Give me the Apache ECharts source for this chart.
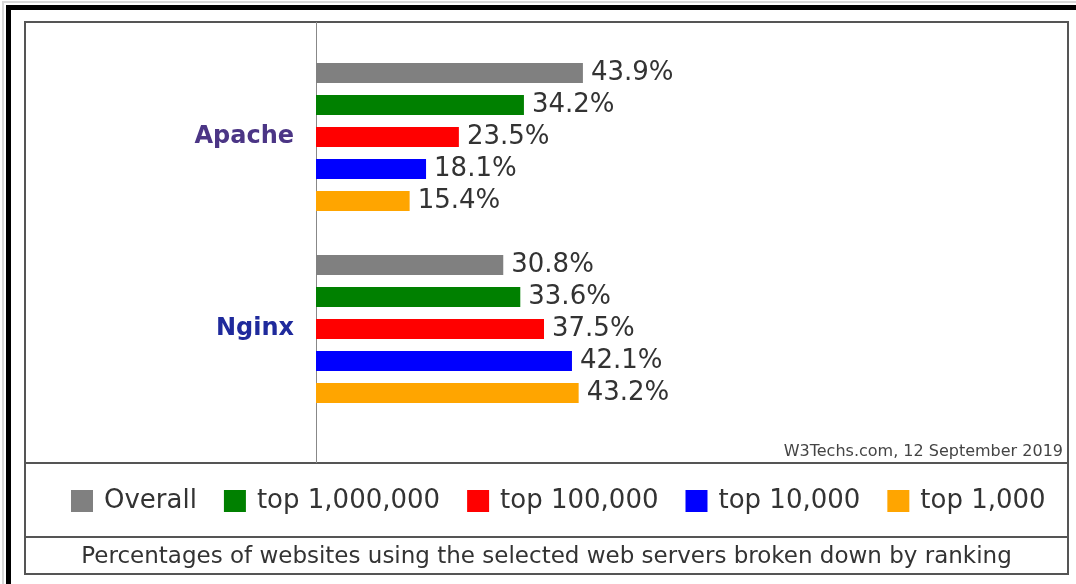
<!DOCTYPE html>
<html><head><meta charset="utf-8">
<script src="https://cdn.jsdelivr.net/npm/echarts@6/dist/echarts.min.js"></script>
<style>html,body{margin:0;padding:0;background:#fff}#c{width:1076px;height:584px}</style>
</head><body><div id="c"></div>
<script>
const categories = ['Apache', 'Nginx'];
const seriesNames = ['Overall', 'top 1,000,000', 'top 100,000', 'top 10,000', 'top 1,000'];
const overall = [43.9, 30.8];
const top1m = [34.2, 33.6];
const top100k = [23.5, 37.5];
const top10k = [18.1, 42.1];
const top1k = [15.4, 43.2];
const categoryColors = ['#4b3585', '#1f2a9c'];
const seriesColors = ['#808080', '#008000', '#ff0000', '#0000ff', '#ffa500'];
const caption = 'Percentages of websites using the selected web servers broken down by ranking';
const credit = 'W3Techs.com, 12 September 2019';

const seriesData = [overall, top1m, top100k, top10k, top1k];
const FONT = 'DejaVu Sans, Verdana, sans-serif';

const chart = echarts.init(document.getElementById('c'), null, {renderer: 'canvas'});
chart.setOption({
  animation: false,
  backgroundColor: '#fff',
  textStyle: {fontFamily: FONT},
  grid: {left: 316, right: 152, top: 41, height: 384, containLabel: false},
  xAxis: {type: 'value', min: 0, max: 100, show: false},
  yAxis: {
    type: 'category', data: categories, inverse: true,
    axisLine: {show: false}, axisTick: {show: false}, splitLine: {show: false},
    axisLabel: {
      margin: 22, fontSize: 24, fontWeight: 'bold', fontFamily: FONT,
      color: (v, i) => categoryColors[categories.indexOf(v)]
    }
  },
  legend: {
    left: 71, top: 488, padding: 0, itemWidth: 22, itemHeight: 22, itemGap: 27,
    icon: 'rect',
    textStyle: {fontSize: 26, color: '#333', fontFamily: FONT, padding: [0, 0, 0, 6]},
    data: seriesNames
  },
  series: seriesNames.map((n, i) => ({
    name: n, type: 'bar', data: seriesData[i],
    barWidth: 20, barGap: '60%',
    itemStyle: {color: seriesColors[i]},
    label: {
      show: true, position: 'right', distance: 8,
      formatter: p => p.value.toFixed(1) + '%',
      fontSize: 26, color: '#333', fontFamily: FONT
    }
  })),
  graphic: [
    {type: 'rect', silent: true, shape: {x: 3, y: 2, width: 1200, height: 700}, style: {fill: null, stroke: '#d8d8d8', lineWidth: 2}},
    {type: 'rect', silent: true, shape: {x: 8.5, y: 7.5, width: 1200, height: 700}, style: {fill: null, stroke: '#000', lineWidth: 5}},
    {type: 'rect', silent: true, shape: {x: 25, y: 22, width: 1043, height: 552}, style: {fill: null, stroke: '#555', lineWidth: 2}},
    {type: 'line', silent: true, shape: {x1: 25, y1: 463, x2: 1068, y2: 463}, style: {stroke: '#555', lineWidth: 2}},
    {type: 'line', silent: true, shape: {x1: 25, y1: 537, x2: 1068, y2: 537}, style: {stroke: '#555', lineWidth: 2}},
    {type: 'line', silent: true, shape: {x1: 316.5, y1: 22, x2: 316.5, y2: 463}, style: {stroke: '#888', lineWidth: 1}},
    {type: 'text', silent: true, x: 546.5, y: 557, style: {text: caption, font: '23px ' + FONT, fill: '#333', textAlign: 'center', textVerticalAlign: 'middle'}},
    {type: 'text', silent: true, x: 1063, y: 460, style: {text: credit, font: '16px ' + FONT, fill: '#444', textAlign: 'right', textVerticalAlign: 'bottom'}}
  ]
});
</script></body></html>
